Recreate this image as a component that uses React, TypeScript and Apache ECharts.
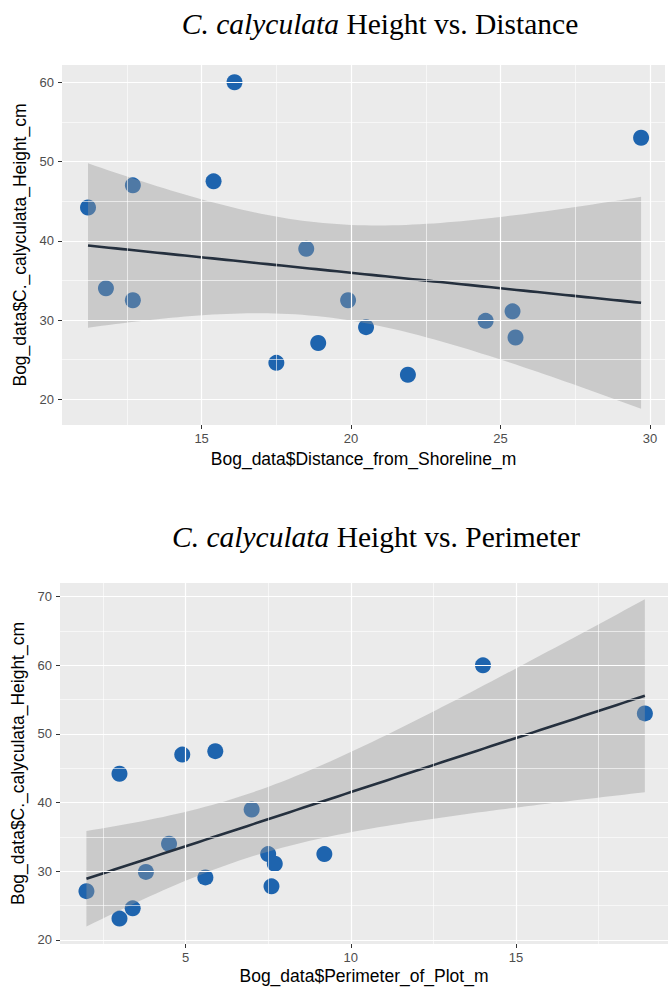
import React, { useEffect, useRef } from "react";
import * as echarts from "echarts";

// Data (16 plots)
const heightCm = [44.2, 47.0, 34.0, 32.5, 60.0, 47.5, 39.0, 27.1, 24.6, 32.5, 29.1, 23.1, 29.9, 31.1, 27.8, 53.0];
const distanceM = [11.2, 12.7, 11.8, 12.7, 16.1, 15.4, 18.5, 18.9, 17.5, 19.9, 20.5, 21.9, 24.5, 25.4, 25.5, 29.7];
const perimeterM = [3.0, 4.9, 4.5, 7.5, 14.0, 5.9, 7.0, 2.0, 3.4, 9.2, 5.6, 3.0, 3.8, 7.7, 7.6, 18.9];

const distTicks = [15, 20, 25, 30];
const distMinor = [12.5, 17.5, 22.5, 27.5];
const heightTicksTop = [20, 30, 40, 50, 60];
const heightMinorTop = [25, 35, 45, 55];
const perimTicks = [5, 10, 15];
const perimMinor = [2.5, 7.5, 12.5, 17.5];
const heightTicksBottom = [20, 30, 40, 50, 60, 70];
const heightMinorBottom = [25, 35, 45, 55, 65];

const titleTop = "Height vs. Distance";
const titleBottom = "Height vs. Perimeter";
const species = "C. calyculata";
const xNameTop = "Bog_data$Distance_from_Shoreline_m";
const xNameBottom = "Bog_data$Perimeter_of_Plot_m";
const yName = "Bog_data$C._calyculata_Height_cm";

// linear model fit with 95% confidence band (as ggplot geom_smooth(method = "lm"))
function lmBand(xs: number[], ys: number[], steps = 80) {
  const n = xs.length;
  const mx = xs.reduce((a, b) => a + b, 0) / n;
  const my = ys.reduce((a, b) => a + b, 0) / n;
  let sxx = 0, sxy = 0;
  for (let i = 0; i < n; i++) {
    sxx += (xs[i] - mx) * (xs[i] - mx);
    sxy += (xs[i] - mx) * (ys[i] - my);
  }
  const b = sxy / sxx;
  const a = my - b * mx;
  let sse = 0;
  for (let i = 0; i < n; i++) {
    const r = ys[i] - (a + b * xs[i]);
    sse += r * r;
  }
  const s = Math.sqrt(sse / (n - 2));
  const t = 2.144787; // qt(0.975, df = 14)
  const lo = Math.min(...xs), hi = Math.max(...xs);
  const out: number[][] = [];
  for (let k = 0; k <= steps; k++) {
    const x = lo + ((hi - lo) * k) / steps;
    const fit = a + b * x;
    const se = s * Math.sqrt(1 / n + ((x - mx) * (x - mx)) / sxx);
    out.push([x, fit, fit - t * se, fit + t * se]);
  }
  return out;
}

const SANS = "'Liberation Sans', Arial, sans-serif";
const SERIF = "'Liberation Serif', 'Times New Roman', serif";

function xAxisCfg(gridIndex: number, min: number, max: number, ticks: number[], name: string, nameGap: number) {
  return {
    type: "value",
    gridIndex,
    min,
    max,
    name,
    nameLocation: "middle",
    nameGap,
    nameTextStyle: { fontFamily: SANS, fontSize: 17.5, color: "#000" },
    axisLine: { show: false, onZero: false },
    axisTick: { show: true, length: 4, lineStyle: { color: "#333", width: 1 }, customValues: ticks },
    axisLabel: { customValues: ticks, color: "#4d4d4d", fontFamily: SANS, fontSize: 13, margin: 7 },
    splitLine: { show: false },
  };
}

function yAxisCfg(gridIndex: number, min: number, max: number, ticks: number[], name: string, nameGap: number) {
  return {
    type: "value",
    gridIndex,
    min,
    max,
    name,
    nameLocation: "middle",
    nameGap,
    nameTextStyle: { fontFamily: SANS, fontSize: 17.5, color: "#000" },
    axisLine: { show: false, onZero: false },
    axisTick: { show: true, length: 4, lineStyle: { color: "#333", width: 1 }, customValues: ticks },
    axisLabel: { customValues: ticks, color: "#4d4d4d", fontFamily: SANS, fontSize: 13, margin: 8 },
    splitLine: { show: false },
  };
}

function gridSeries(idx: number, xMaj: number[], xMin: number[], yMaj: number[], yMin: number[], anchor: number[]) {
  const major = { color: "#ffffff", width: 1.2, type: "solid" };
  const minor = { color: "#ffffff", width: 0.6, type: "solid" };
  return {
    type: "scatter",
    xAxisIndex: idx,
    yAxisIndex: idx,
    data: [anchor],
    symbolSize: 0,
    itemStyle: { opacity: 0 },
    silent: true,
    z: 1,
    markLine: {
      silent: true,
      symbol: "none",
      label: { show: false },
      animation: false,
      data: [
        ...xMin.map((v) => ({ xAxis: v, lineStyle: minor })),
        ...yMin.map((v) => ({ yAxis: v, lineStyle: minor })),
        ...xMaj.map((v) => ({ xAxis: v, lineStyle: major })),
        ...yMaj.map((v) => ({ yAxis: v, lineStyle: major })),
      ],
    },
  };
}

function panelSeries(idx: number, xs: number[], ys: number[]) {
  const band = lmBand(xs, ys);
  return [
    {
      type: "scatter",
      xAxisIndex: idx,
      yAxisIndex: idx,
      data: xs.map((x, i) => [x, ys[i]]),
      symbolSize: 16,
      itemStyle: { color: "#1e64ae", opacity: 1 },
      z: 2,
    },
    {
      type: "custom",
      xAxisIndex: idx,
      yAxisIndex: idx,
      data: [[band[0][0], band[0][1]]],
      silent: true,
      z: 3,
      renderItem: (_params: any, api: any) => {
        const upper = band.map((p) => api.coord([p[0], p[3]]));
        const lower = band.map((p) => api.coord([p[0], p[2]])).reverse();
        return {
          type: "polygon",
          shape: { points: upper.concat(lower) },
          style: { fill: "rgba(153,153,153,0.4)", stroke: "none" },
        };
      },
    },
    {
      type: "line",
      xAxisIndex: idx,
      yAxisIndex: idx,
      data: band.map((p) => [p[0], p[1]]),
      showSymbol: false,
      lineStyle: { color: "#25303e", width: 2.6 },
      silent: true,
      z: 4,
    },
  ];
}

const TITLE_SIZE = 29.5;

function titleGraphic(x: number, y: number, rest: string) {
  return {
    type: "text",
    x,
    y,
    style: {
      text: `{i|${species}} {r|${rest}}`,
      rich: {
        i: { fontStyle: "italic", fontFamily: SERIF, fontSize: TITLE_SIZE, fill: "#000" },
        r: { fontFamily: SERIF, fontSize: TITLE_SIZE, fill: "#000" },
      },
      fontFamily: SERIF,
      fontSize: TITLE_SIZE,
      fill: "#000",
      align: "center",
      verticalAlign: "middle",
    },
  };
}

export default function App() {
  const ref = useRef<HTMLDivElement>(null);
  useEffect(() => {
    if (!ref.current) return;
    const chart = echarts.init(ref.current, null, { renderer: "svg" });
    chart.setOption({
      animation: false,
      backgroundColor: "#ffffff",
      grid: [
        { left: 62, top: 65, width: 603, height: 360, show: true, backgroundColor: "#ebebeb", borderWidth: 0, containLabel: false },
        { left: 60, top: 583, width: 608, height: 361, show: true, backgroundColor: "#ebebeb", borderWidth: 0, containLabel: false },
      ],
      xAxis: [
        xAxisCfg(0, 10.33, 30.5, distTicks, xNameTop, 25),
        xAxisCfg(1, 1.2, 19.6, perimTicks, xNameBottom, 23),
      ],
      yAxis: [
        yAxisCfg(0, 16.76, 62.18, heightTicksTop, yName, 28),
        yAxisCfg(1, 19.4, 72.0, heightTicksBottom, yName, 27),
      ],
      graphic: [titleGraphic(380, 23.5, titleTop), titleGraphic(376, 537, titleBottom)],
      series: [
        gridSeries(0, distTicks, distMinor, heightTicksTop, heightMinorTop, [20, 40]),
        gridSeries(1, perimTicks, perimMinor, heightTicksBottom, heightMinorBottom, [10, 40]),
        ...panelSeries(0, distanceM, heightCm),
        ...panelSeries(1, perimeterM, heightCm),
      ],
    });
    return () => chart.dispose();
  }, []);
  return (
    <div
      ref={ref}
      style={{ position: "absolute", left: 0, top: 0, width: 671, height: 991 }}
    />
  );
}
